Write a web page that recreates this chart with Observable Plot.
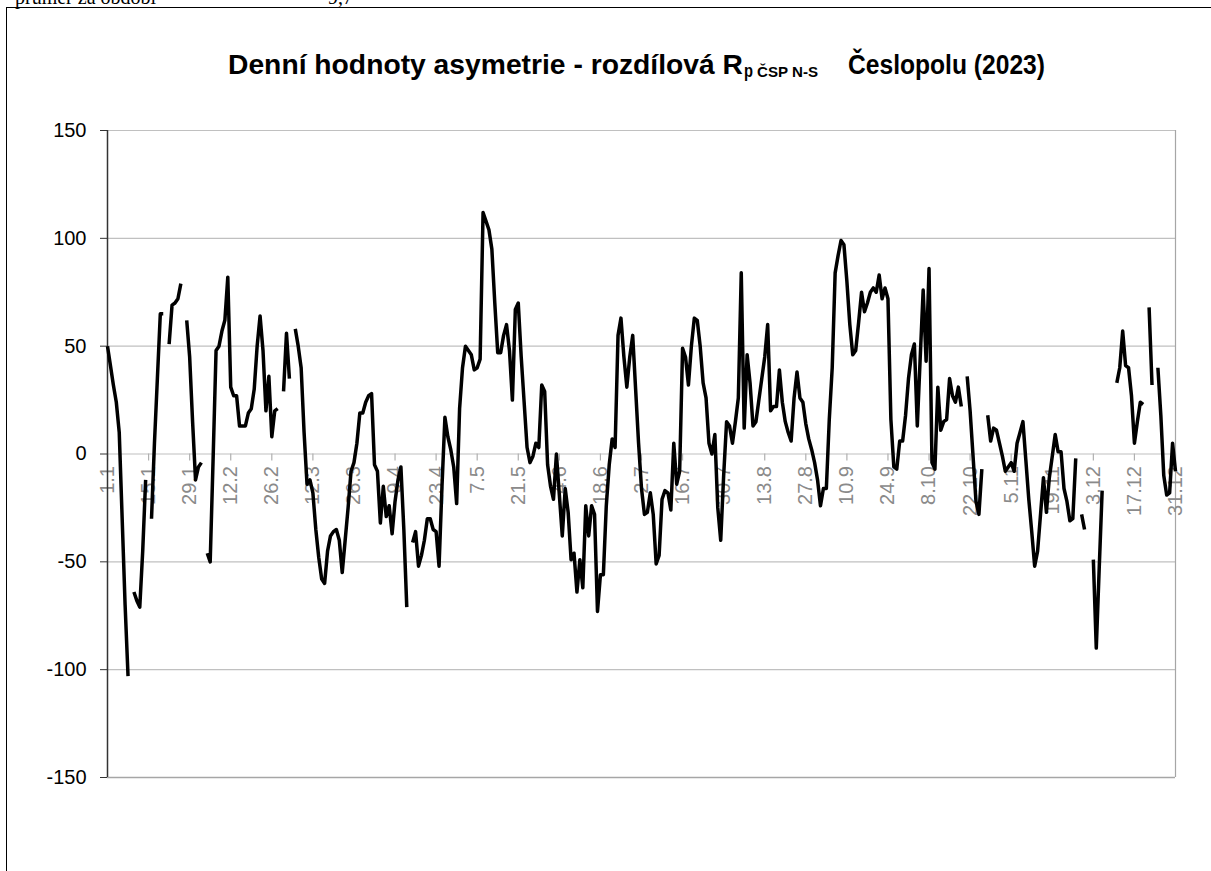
<!DOCTYPE html>
<html>
<head>
<meta charset="utf-8">
<script src="https://cdn.jsdelivr.net/npm/d3@7"></script>
<script src="https://cdn.jsdelivr.net/npm/@observablehq/plot@0.6"></script>
<style>
  html, body { margin: 0; padding: 0; background: #fff; overflow: hidden; }
  #wrap { position: relative; width: 1211px; height: 871px; overflow: hidden; }
  .note { position: absolute; top: -13px; font: 20px "Liberation Serif", serif; line-height: 20px; white-space: pre; color: #000; }
  #frame { position: absolute; left: 6px; top: 7px; width: 1240px; height: 900px; border: 1px solid #000; box-sizing: border-box; }
  .t { position: absolute; font-family: "Liberation Sans", Arial, sans-serif; font-weight: bold; white-space: pre; color: #000; transform-origin: 0 0; line-height: 1; }
  #chart { position: absolute; left: 0; top: 0; }
</style>
</head>
<body>
<div id="wrap">
  <div class="note" style="left:15px">průměr za období</div>
  <div class="note" style="left:328px">9,7</div>
  <div id="frame"></div>
  <div class="t" id="t1" data-w="515" style="left:228px; top:51px; font-size:28px">Denní hodnoty asymetrie - rozdílová R</div>
  <div class="t" id="t2" data-w="9" style="left:744px; top:61px; font-size:19px">p</div>
  <div class="t" id="t3" data-w="61" style="left:757px; top:65px; font-size:14px">ČSP N-S</div>
  <div class="t" id="t4" data-w="197" style="left:848px; top:51px; font-size:28px">Česlopolu (2023)</div>
  <div id="chart"></div>
</div>
<script>
// Daily values for 2023 (index 0 = 1.1.2023), null = missing day
const values = [
  50, 41, 32, 24, 10, -30, -70, -103, null, -64,
  -68, -71, -45, -12, null, -30, 5, 35, 65, 65,
  null, 51, 69, 70, 72, 79, null, 62, 45, 15,
  -12, -6, -4, null, -46, -50, -2, 48, 50, 57,
  62, 82, 31, 27, 27, 13, 13, 13, 19, 21,
  30, 50, 64, 48, 20, 36, 8, 20, 21, null,
  29, 56, 35, null, 58, 50, 40, 10, -14, -12,
  -18, -35, -48, -58, -60, -45, -38, -36, -35, -40,
  -55, -40, -25, -8, -4, 5, 19, 19, 24, 27,
  28, -5, -8, -32, -15, -29, -24, -37, -22, -12,
  -6, -35, -71, null, -41, -36, -52, -47, -40, -30,
  -30, -35, -36, -52, -15, 17, 8, 2, -6, -23,
  21, 40, 50, 48, 46, 39, 40, 44, 112, 108,
  104, 95, 70, 47, 47, 55, 60, 48, 25, 67,
  70, 45, 24, 3, -4, -1, 5, 3, 32, 29,
  -5, -15, -21, 0, -19, -38, -16, -27, -49, -46,
  -64, -49, -62, -24, -38, -24, -28, -73, -56, -56,
  -24, -5, 7, 3, 55, 63, 45, 31, 45, 55,
  30, 5, -16, -28, -27, -18, -28, -51, -47, -21,
  -17, -18, -26, 5, -14, -8, 49, 45, 32, 50,
  63, 62, 50, 33, 26, 5, 0, 9, -25, -40,
  -10, 15, 13, 5, 15, 26, 84, 12, 46, 33,
  13, 15, 25, 35, 45, 60, 20, 22, 22, 39,
  24, 15, 10, 6, 26, 38, 26, 24, 14, 7,
  2, -4, -12, -24, -16, -16, 16, 40, 84, 92,
  99, 97, 80, 60, 46, 48, 61, 75, 66, 70,
  75, 77, 75, 83, 72, 77, 72, 16, -6, -7,
  6, 6, 18, 35, 46, 51, 13, 45, 76, 43,
  86, -4, -7, 31, 11, 15, 16, 35, 27, 24,
  31, 22, null, 36, 20, -1, -22, -28, -7, null,
  18, 6, 12, 11, 5, -1, -8, -6, -4, -8,
  5, 10, 15, -3, -21, -36, -52, -45, -28, -11,
  -27, -11, -1, 9, 1, 1, -16, -22, -31, -30,
  -2, null, -28, -35, null, null, -49, -90, -53, -17,
  null, null, null, null, 33, 40, 57, 41, 40, 27,
  5, 15, 24, 23, null, 68, 32, null, 40, 18,
  -10, -19, -18, 5, -8
];
const tickLabels = ["1.1","15.1","29.1","12.2","26.2","12.3","26.3","9.4","23.4","7.5","21.5","4.6","18.6",
  "2.7","16.7","30.7","13.8","27.8","10.9","24.9","8.10","22.10","5.11","19.11","3.12","17.12","31.12"];
const tickStep = 14; // labels every 14 days
const yTicks = [-150, -100, -50, 0, 50, 100, 150];

const data = values.map((v, i) => ({day: i, value: v}));
const tickDays = tickLabels.map((_, i) => i * tickStep);

const chart = Plot.plot({
  width: 1211,
  height: 871,
  marginLeft: 107,
  marginRight: 36,
  marginTop: 130,
  marginBottom: 94,
  x: {domain: [0, values.length - 1], axis: null},
  y: {domain: [-150, 150], axis: null},
  style: {background: "transparent", fontFamily: "'Liberation Sans', Arial, sans-serif", color: "#000"},
  marks: [
    Plot.ruleY(yTicks.filter(d => d > -150), {stroke: "#c0c0c0", strokeWidth: 1.2}),
    Plot.ruleY([-150], {stroke: "#a6a6a6", strokeWidth: 1.5}),
    Plot.ruleX([values.length - 1], {stroke: "#a6a6a6", strokeWidth: 1.2}),
    Plot.ruleX(tickDays, {x: d => d, y1: 0, y2: 0, insetBottom: -7, stroke: "#b0b0b0", strokeWidth: 1.2}),
    Plot.text(tickDays, {x: d => d, y: 0, text: (d, i) => tickLabels[i], rotate: -90, textAnchor: "end", dy: 12, fill: "#8a8a8a", fontSize: 20}),
    Plot.axisY({ticks: yTicks, tickSize: 7, tickPadding: 14, fontSize: 20, stroke: "#333", fill: "#000", label: null, tickFormat: d => String(d)}),
    Plot.ruleX([0], {stroke: "#333", strokeWidth: 1.5}),
    Plot.line(data, {x: "day", y: "value", stroke: "#000", strokeWidth: 3.5, strokeLinejoin: "round", strokeLinecap: "butt"})
  ]
});
document.getElementById("chart").appendChild(chart);

// fit the title pieces to their widths in the reference layout
document.querySelectorAll(".t").forEach(el => {
  const w = el.getBoundingClientRect().width;
  const target = +el.dataset.w;
  if (w > 0) el.style.transform = `scaleX(${target / w})`;
});
</script>
</body>
</html>
